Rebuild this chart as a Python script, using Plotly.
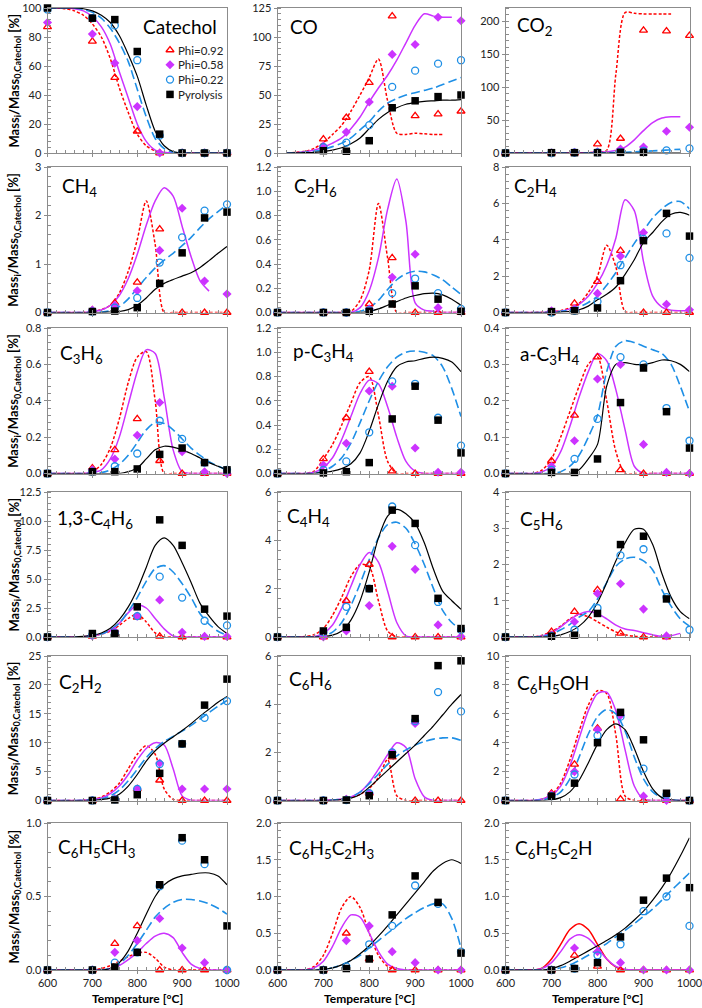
import plotly.graph_objects as go

W, H = 702, 1008

T_EXP = [600, 700, 750, 800, 850, 900, 950, 1000]
T_MOD = list(range(600, 1001, 20))
SERIES = ["Phi=0.92", "Phi=0.58", "Phi=0.22", "Pyrolysis"]
N = None

# ---------------- experimental data [Phi=0.92, Phi=0.58, Phi=0.22, Pyrolysis]
catechol_exp = [[87, 77, 52, 15, 0, 0, 0, 0], [90, 82, 62, 32, 0, 0, 0, 0],
                [99, 93, 88, 64, 12, 0, 0, 0], [100, 93, 92, 70, 13, 0, 0, 0]]
co_exp = [[N, 12, 30.6, 60.6, 118, 32, 33.5, 36], [N, 6, 18, 44, 85, 93.5, 117, 114],
          [N, 5, 9, 24, 57, 71, 77, 80], [N, 2, 1.5, 10.6, 39, 45, 48.6, 50]]
co2_exp = [[0, 0, 0, 13.6, 22, 186, 185, 178], [0, 0, 1, 2, 6, 9, 33, 39],
           [0, 0, 0.5, 1, 1.5, 3, 4, 7], [0, 0.5, 0.5, 0.5, 1, 1, N, N]]
ch4_exp = [[0, 0.05, 0.2, 0.62, 1.72, 0, 0, 0], [0, 0.05, 0.15, 0.45, 1.28, 2.15, 0.65, 0.38],
           [0, 0.02, 0.1, 0.3, 1.03, 1.55, 2.1, 2.23], [0, 0.02, 0.03, 0.1, 0.6, 1.23, 1.95, 2.07]]
c2h6_exp = [[0, 0, 0, 0.07, 0.45, 0, 0, 0], [0, 0, 0, 0.03, 0.29, 0.48, 0.04, 0.01],
            [0, 0, 0, 0.02, 0.16, 0.28, 0.16, 0.03], [0, 0, 0, 0.01, 0.07, 0.22, 0.11, 0.01]]
c2h4_exp = [[0, 0, 0.5, 1.7, 3.4, 0, 0, 0], [0, 0.1, 0.2, 1.05, 3.1, 4.4, 0.45, 0.15],
            [0, 0, 0.1, 0.6, 2.6, 4.05, 4.35, 3.0], [0, 0.05, 0.1, 0.25, 1.75, 3.95, 5.45, 4.2]]
c3h6_exp = [[0, 0.03, 0.13, 0.3, 0.07, 0, 0, 0], [0, 0.02, 0.08, 0.21, 0.39, 0.12, 0.01, 0],
            [0, 0.01, 0.04, 0.11, 0.29, 0.19, 0.06, 0.02], [0, 0.01, 0.01, 0.025, 0.105, 0.14, 0.06, 0.02]]
pc3h4_exp = [[0, 0.12, 0.46, 0.84, 0.02, 0, 0, 0], [0, 0.07, 0.25, 0.68, 0.72, 0.21, 0.01, 0.01],
             [0, 0.03, 0.1, 0.34, 0.76, 0.74, 0.46, 0.23], [0, 0.005, 0.015, 0.09, 0.45, 0.72, 0.44, 0.17]]
ac3h4_exp = [[0, 0.035, 0.16, 0.32, 0.01, 0, 0, 0], [0, 0.02, 0.09, 0.26, 0.3, 0.08, 0.003, 0],
             [0, 0.01, 0.04, 0.15, 0.32, 0.3, 0.18, 0.09], [0, 0.003, 0.003, 0.04, 0.195, 0.29, 0.17, 0.07]]
c4h6_exp = [[0, 0.05, 0.3, 1.7, 0.05, 0, 0, 0], [0, 0.1, 0.5, 1.8, 3.2, 0.4, 0.05, 0.05],
            [0, 0.2, 0.3, 1.8, 5.2, 3.4, 1.4, 1.0], [0, 0.3, 0.3, 2.6, 10.1, 7.9, 2.4, 1.8]]
c4h4_exp = [[0, 0, 1.5, 3.0, 0, 0, 0, 0], [0, 0, 0.25, 1.3, 3.75, 2.8, 0.5, 0.02],
            [0, 0.2, 1.25, 2.0, 5.4, 3.8, 1.45, 0.3], [0, 0.25, 0.4, 2.0, 5.25, 4.7, 1.6, 0.35]]
c5h6_exp = [[0, 0.15, 0.7, 1.3, 0.1, 0, 0, N], [0, 0.05, 0.42, 1.2, 1.47, 0.77, 0.03, N],
            [0, 0.03, 0.2, 0.8, 2.25, 2.42, 1.1, 0.2], [0, 0.02, 0.05, 0.65, 2.55, 2.78, 1.05, N]]
c2h2_exp = [[0, 0, 0.3, 2.0, 3.5, 0, 0, 0], [0, 0, 0.3, 2.0, 6.5, 2.0, 2.0, 2.0],
            [0, 0, 0.2, 2.0, 6.3, 9.8, 14.3, 17.2], [0, 0, 0.1, 1.0, 4.7, 9.8, 16.5, 21.0]]
c6h6_exp = [[0, 0, 0.05, 0.3, 1.8, 0, 0, 0], [0, 0, 0.05, 0.3, 2.0, 3.2, N, N],
            [0, 0, 0.02, 0.3, 2.0, 3.3, 4.5, 3.7], [0, 0, 0.02, 0.2, 1.9, 3.4, 5.6, 5.8]]
c6h5oh_exp = [[0, 0.5, 2.5, 5.0, 0.1, 0, 0, 0], [0, 0.4, 2.0, 4.9, 5.9, 0.3, 0, 0],
              [0, 0.3, 1.8, 4.5, 5.8, 2.2, 0.4, 0], [0, 0.3, 1.2, 4.0, 6.1, 4.2, 0.5, 0]]
c6h5ch3_exp = [[0, 0, 0.18, 0.3, 0, 0, 0, 0], [0, 0, 0.12, 0.2, 0.35, 0.15, 0.05, 0],
               [0, 0, 0.05, 0.12, 0.57, 0.88, 0.72, 0], [0, 0, 0.02, 0.12, 0.58, 0.9, 0.75, 0.3]]
c6h5c2h3_exp = [[0, 0, 0.5, 0.15, 0, 0, 0, 0], [0, 0, 0.4, 0.6, 0.25, 0.1, 0, 0],
                [0, 0, 0.05, 0.35, 0.6, 1.15, 0.9, 0.25], [0, 0, 0.02, 0.15, 0.75, 1.28, 0.92, 0.23]]
c6h5c2h_exp = [[0, 0, 0.2, 0.05, 0, 0, 0, 0], [0, 0, 0.3, 0.25, 0.1, 0, 0, 0],
               [0, 0, 0.02, 0.2, 0.35, 0.8, 1.0, 0.6], [0, 0, 0.02, 0.1, 0.45, 0.95, 1.25, 1.12]]

# ---------------- model curves on T_MOD (600..1000 step 20)
catechol_mod = [
    [100, 100, 99.5, 98, 95, 89, 80, 65, 45, 28, 13, 5, 1.5, 0, 0, 0, 0, 0, 0, 0, 0],
    [100, 100, 100, 99.5, 98, 94, 87, 75, 56, 38, 20, 8, 2, 0.5, 0, 0, 0, 0, 0, 0, 0],
    [100, 100, 100, 100, 99, 97, 93, 86, 76, 63, 44, 25, 10, 3, 0.5, 0, 0, 0, 0, 0, 0],
    [100, 100, 100, 100, 99.5, 98, 95, 90, 81, 68, 53, 33, 15, 5, 1, 0, 0, 0, 0, 0, 0]]
co_mod = [
    [N, 0, 0.5, 1.5, 4, 9, 16, 24, 36, 50, 65, 81, 45, 17, 16, 17, 16.5, 16, 16, N, N],
    [N, 0, 0.3, 1, 2.5, 5, 8.5, 13, 21, 31, 44, 56, 67, 80, 95, 110, 120, 118, 117, 117, N],
    [N, 0, 0.2, 0.7, 1.5, 3, 5.5, 8.5, 13, 20, 27, 36, 43, 47, 50, 52, 54, 56, 59, 62, 65],
    [N, 0, 0.1, 0.3, 0.6, 1.2, 2.5, 4.5, 8, 13, 21, 29, 35, 39, 42, 43.5, 44.5, 45, 45.5, 45.5, 46]]
co2_mod = [
    [0, 0, 0, 0, 0, 0, 0, 0, 0, 0.5, 1.5, 4, 120, 213, 212, 211, 211, 211, 211, N, N],
    [0, 0, 0, 0, 0, 0, 0, 0, 0, 0.3, 1, 2, 4, 9, 20, 34, 46, 53, 55, 55, N],
    [0, 0, 0, 0, 0, 0, 0, 0, 0, 0, 0.3, 0.5, 0.8, 1.2, 1.8, 2.5, 3.2, 4, 5, 5.5, N],
    [0, 0, 0, 0, 0, 0, 0, 0, 0, 0, 0, 0, 0, 0, 0, 0, 0, 0, 0, 0, N]]
ch4_mod = [
    [0, 0, 0, 0, 0, 0.02, 0.06, 0.15, 0.4, 0.85, 1.5, 2.3, 1.4, 0, 0, 0, 0, 0, 0, 0, 0],
    [0, 0, 0, 0, 0, 0.02, 0.05, 0.15, 0.35, 0.7, 1.2, 1.8, 2.3, 2.57, 2.4, 1.78, 1.15, 0.65, 0.44, N, N],
    [0, 0, 0, 0, 0, 0, 0.01, 0.04, 0.12, 0.28, 0.5, 0.72, 0.92, 1.08, 1.22, 1.38, 1.55, 1.75, 1.93, 2.08, 2.22],
    [0, 0, 0, 0, 0, 0, 0, 0.01, 0.02, 0.06, 0.15, 0.3, 0.48, 0.6, 0.68, 0.75, 0.82, 0.93, 1.07, 1.22, 1.36]]
c2h6_mod = [
    [0, 0, 0, 0, 0, 0, 0, 0, 0.01, 0.1, 0.35, 0.9, 0.45, 0, 0, 0, 0, 0, 0, 0, 0],
    [0, 0, 0, 0, 0, 0, 0, 0, 0, 0.04, 0.18, 0.45, 0.85, 1.1, 0.75, 0.08, 0.02, 0.01, 0, 0, 0],
    [0, 0, 0, 0, 0, 0, 0, 0, 0, 0.01, 0.04, 0.1, 0.19, 0.27, 0.32, 0.34, 0.335, 0.31, 0.27, 0.21, 0.15],
    [0, 0, 0, 0, 0, 0, 0, 0, 0, 0, 0.01, 0.03, 0.06, 0.09, 0.12, 0.14, 0.155, 0.16, 0.145, 0.11, 0.06]]
c2h4_mod = [
    [0, 0, 0, 0, 0.02, 0.05, 0.1, 0.25, 0.5, 1.1, 2.0, 3.7, 2.5, 0.05, 0, 0, 0, 0, 0, 0, 0],
    [0, 0, 0, 0, 0, 0.03, 0.08, 0.2, 0.45, 0.9, 1.6, 2.6, 4.1, 6.2, 5.6, 2.8, 0.9, 0.3, 0.12, 0.1, 0.1],
    [0, 0, 0, 0, 0, 0.02, 0.06, 0.15, 0.3, 0.55, 0.9, 1.5, 2.2, 3.0, 3.8, 4.5, 5.2, 5.7, 6.05, 6.1, 5.7],
    [0, 0, 0, 0, 0, 0, 0.02, 0.06, 0.15, 0.35, 0.7, 1.0, 1.4, 2.1, 2.9, 3.85, 4.4, 5.0, 5.4, 5.5, 5.35]]
c3h6_mod = [
    [0, 0, 0, 0, 0, 0.01, 0.05, 0.14, 0.3, 0.5, 0.64, 0.67, 0.4, 0, 0, 0, 0, 0, 0, 0, 0],
    [0, 0, 0, 0, 0, 0.005, 0.02, 0.08, 0.2, 0.38, 0.56, 0.68, 0.66, 0.42, 0.13, 0.01, 0, 0, 0, 0, 0],
    [0, 0, 0, 0, 0, 0, 0.005, 0.02, 0.05, 0.1, 0.17, 0.24, 0.28, 0.275, 0.24, 0.19, 0.14, 0.1, 0.065, 0.04, 0.02],
    [0, 0, 0, 0, 0, 0, 0, 0, 0, 0.01, 0.03, 0.08, 0.13, 0.15, 0.145, 0.13, 0.11, 0.085, 0.06, 0.04, 0.02]]
pc3h4_mod = [
    [0, 0, 0, 0, 0.02, 0.12, 0.24, 0.4, 0.58, 0.75, 0.8, 0.48, 0.1, 0, 0, 0, 0, 0, 0, 0, 0],
    [0, 0, 0, 0, 0.01, 0.05, 0.13, 0.28, 0.47, 0.66, 0.77, 0.74, 0.55, 0.3, 0.1, 0.02, 0, 0, 0, 0, 0],
    [0, 0, 0, 0, 0, 0.02, 0.06, 0.13, 0.25, 0.42, 0.6, 0.76, 0.88, 0.96, 1.0, 1.01, 1.0, 0.97, 0.88, 0.7, 0.47],
    [0, 0, 0, 0, 0, 0.01, 0.02, 0.04, 0.08, 0.17, 0.35, 0.57, 0.76, 0.88, 0.92, 0.93, 0.95, 0.96, 0.95, 0.92, 0.84]]
ac3h4_mod = [
    [0, 0, 0, 0, 0.01, 0.04, 0.1, 0.17, 0.24, 0.3, 0.32, 0.2, 0.06, 0, 0, 0, 0, 0, 0, 0, 0],
    [0, 0, 0, 0, 0.005, 0.02, 0.06, 0.13, 0.21, 0.28, 0.33, 0.31, 0.23, 0.12, 0.02, 0, 0, 0, 0, 0, 0],
    [0, 0, 0, 0, 0, 0, 0.005, 0.02, 0.05, 0.1, 0.16, 0.28, 0.35, 0.365, 0.36, 0.35, 0.34, 0.33, 0.3, 0.24, 0.17],
    [0, 0, 0, 0, 0, 0, 0, 0, 0.01, 0.04, 0.08, 0.24, 0.3, 0.305, 0.3, 0.3, 0.305, 0.312, 0.31, 0.3, 0.28]]
c4h6_mod = [
    [0, 0, 0, 0, 0.03, 0.1, 0.25, 0.5, 1.0, 1.6, 1.95, 1.3, 0.35, 0, 0, 0, 0, 0, 0, 0, 0],
    [0, 0, 0, 0, 0.03, 0.1, 0.25, 0.6, 1.2, 2.1, 2.75, 2.5, 1.6, 0.7, 0.1, 0, 0, 0, 0, 0, 0],
    [0, 0, 0, 0, 0.03, 0.1, 0.25, 0.6, 1.2, 2.2, 3.4, 4.8, 5.9, 6.15, 5.6, 4.6, 3.4, 2.0, 1.1, 0.5, 0.15],
    [0, 0, 0, 0, 0.05, 0.15, 0.35, 0.75, 1.5, 2.6, 4.1, 6.0, 7.9, 8.55, 7.9, 6.4, 4.7, 2.9, 1.8, 0.9, 0.3]]
c4h4_mod = [
    [0, 0, 0, 0.02, 0.1, 0.35, 0.9, 1.65, 2.5, 3.0, 2.9, 1.5, 0.25, 0, 0, 0, 0, 0, 0, 0, 0],
    [0, 0, 0, 0, 0.02, 0.15, 0.5, 1.2, 2.1, 3.0, 3.5, 3.1, 1.9, 0.6, 0.05, 0, 0, 0, 0, 0, 0],
    [0, 0, 0, 0, 0, 0.05, 0.2, 0.6, 1.3, 2.2, 3.2, 4.1, 4.65, 4.75, 4.5, 3.85, 3.0, 2.0, 1.1, 0.6, 0.3],
    [0, 0, 0, 0, 0, 0.02, 0.08, 0.25, 0.7, 1.5, 2.7, 4.1, 5.0, 5.28, 5.1, 4.7, 3.9, 2.8, 1.9, 1.5, 1.15]]
c5h6_mod = [
    [0, 0, 0, 0, 0.05, 0.15, 0.3, 0.5, 0.62, 0.56, 0.42, 0.27, 0.14, 0.06, 0.02, 0, 0, 0.02, 0.05, N, N],
    [0, 0, 0, 0, 0.03, 0.12, 0.28, 0.48, 0.63, 0.7, 0.64, 0.5, 0.33, 0.22, 0.18, 0.12, 0.06, 0.02, 0.04, 0.1, N],
    [0, 0, 0, 0, 0.02, 0.08, 0.2, 0.35, 0.55, 0.7, 1.05, 1.5, 1.95, 2.15, 2.2, 2.1, 1.85, 1.3, 0.85, 0.5, 0.3],
    [0, 0, 0, 0, 0, 0.02, 0.06, 0.15, 0.3, 0.55, 0.95, 1.5, 2.1, 2.6, 2.97, 2.97, 2.55, 1.75, 1.1, 0.7, 0.5]]
c2h2_mod = [
    [0, 0, 0, 0, 0.05, 0.2, 0.6, 1.5, 3.0, 5.5, 8.0, 9.5, 8.0, 2.0, 0.2, 0, 0, 0, 0, 0, 0],
    [0, 0, 0, 0, 0.03, 0.15, 0.45, 1.2, 2.5, 4.5, 7.0, 9.0, 10.0, 9.6, 5.5, 0.8, 0.05, 0, 0, 0, 0],
    [0, 0, 0, 0, 0.02, 0.1, 0.3, 0.8, 1.8, 3.4, 5.4, 7.4, 9.0, 10.2, 11.1, 12.0, 13.0, 14.1, 15.2, 16.3, 17.3],
    [0, 0, 0, 0, 0, 0.05, 0.15, 0.4, 1.1, 2.5, 4.5, 6.8, 8.6, 9.9, 11.0, 12.1, 13.3, 14.6, 15.8, 17.0, 18.0]]
c6h6_mod = [
    [0, 0, 0, 0, 0, 0, 0.02, 0.05, 0.12, 0.25, 0.5, 0.95, 1.7, 0.2, 0, 0, 0, 0, 0, 0, 0],
    [0, 0, 0, 0, 0, 0, 0.02, 0.06, 0.15, 0.35, 0.75, 1.3, 1.9, 2.4, 2.2, 0.9, 0.15, 0, 0, 0, 0],
    [0, 0, 0, 0, 0, 0, 0.02, 0.06, 0.15, 0.35, 0.7, 1.1, 1.5, 1.85, 2.1, 2.3, 2.45, 2.55, 2.6, 2.6, 2.5],
    [0, 0, 0, 0, 0, 0, 0.01, 0.04, 0.1, 0.25, 0.55, 0.9, 1.25, 1.6, 1.95, 2.3, 2.7, 3.1, 3.55, 4.0, 4.4]]
c6h5oh_mod = [
    [0, 0, 0, 0, 0.1, 0.4, 1.2, 2.8, 4.8, 6.6, 7.6, 7.4, 4.5, 0.3, 0, 0, 0, 0, 0, 0, 0],
    [0, 0, 0, 0, 0.1, 0.35, 1.0, 2.4, 4.3, 6.2, 7.4, 7.5, 6.2, 3.5, 1.0, 0.1, 0, 0, 0, 0, 0],
    [0, 0, 0, 0, 0.05, 0.2, 0.6, 1.5, 3.0, 4.6, 5.8, 6.3, 6.0, 4.8, 3.0, 1.5, 0.6, 0.2, 0.05, 0, 0],
    [0, 0, 0, 0, 0, 0.05, 0.2, 0.6, 1.4, 2.6, 3.9, 4.9, 5.3, 4.9, 3.6, 2.0, 0.8, 0.2, 0.05, 0, 0]]
c6h5ch3_mod = [
    [0, 0, 0, 0, 0, 0, 0.01, 0.03, 0.06, 0.09, 0.115, 0.12, 0.08, 0.02, 0, 0, 0, 0, 0, 0, 0],
    [0, 0, 0, 0, 0, 0, 0, 0.01, 0.03, 0.07, 0.12, 0.18, 0.23, 0.25, 0.22, 0.12, 0.04, 0.01, 0, 0, 0],
    [0, 0, 0, 0, 0, 0, 0, 0.01, 0.04, 0.1, 0.18, 0.27, 0.36, 0.42, 0.46, 0.48, 0.48, 0.47, 0.45, 0.42, 0.38],
    [0, 0, 0, 0, 0, 0, 0, 0.01, 0.05, 0.13, 0.25, 0.38, 0.5, 0.58, 0.62, 0.64, 0.65, 0.66, 0.66, 0.64, 0.58]]
c6h5c2h3_mod = [
    [0, 0, 0, 0, 0.05, 0.2, 0.5, 0.85, 1.0, 0.85, 0.5, 0.2, 0.05, 0, 0, 0, 0, 0, 0, 0, 0],
    [0, 0, 0, 0, 0.03, 0.12, 0.32, 0.58, 0.75, 0.72, 0.5, 0.25, 0.08, 0.02, 0, 0, 0, 0, 0, 0, 0],
    [0, 0, 0, 0, 0, 0.01, 0.03, 0.07, 0.13, 0.2, 0.3, 0.4, 0.5, 0.6, 0.7, 0.78, 0.85, 0.9, 0.9, 0.7, 0.3],
    [0, 0, 0, 0, 0, 0.01, 0.03, 0.07, 0.13, 0.22, 0.33, 0.46, 0.6, 0.75, 0.9, 1.05, 1.2, 1.35, 1.45, 1.5, 1.45]]
c6h5c2h_mod = [
    [0, 0, 0, 0, 0.03, 0.15, 0.35, 0.55, 0.63, 0.55, 0.35, 0.15, 0.04, 0, 0, 0, 0, 0, 0, 0, 0],
    [0, 0, 0, 0, 0.02, 0.1, 0.25, 0.42, 0.48, 0.43, 0.3, 0.15, 0.05, 0.01, 0, 0, 0, 0, 0, 0, 0],
    [0, 0, 0, 0, 0, 0.01, 0.03, 0.07, 0.13, 0.2, 0.28, 0.36, 0.45, 0.54, 0.63, 0.73, 0.83, 0.95, 1.08, 1.2, 1.32],
    [0, 0, 0, 0, 0, 0.02, 0.06, 0.12, 0.19, 0.26, 0.33, 0.4, 0.48, 0.57, 0.68, 0.8, 0.95, 1.12, 1.32, 1.55, 1.8]]

# ---------------- panels: title, exp, model, ymax, dtick, tickformat
panels = [
    ("Catechol", catechol_exp, catechol_mod, 100, 20, "d"),
    ("CO", co_exp, co_mod, 125, 25, "d"),
    ("CO<sub>2</sub>", co2_exp, co2_mod, 220, 50, "d"),
    ("CH<sub>4</sub>", ch4_exp, ch4_mod, 3, 1, "d"),
    ("C<sub>2</sub>H<sub>6</sub>", c2h6_exp, c2h6_mod, 1.2, 0.2, ".1f"),
    ("C<sub>2</sub>H<sub>4</sub>", c2h4_exp, c2h4_mod, 8, 2, "d"),
    ("C<sub>3</sub>H<sub>6</sub>", c3h6_exp, c3h6_mod, 0.8, 0.2, ".1f"),
    ("p-C<sub>3</sub>H<sub>4</sub>", pc3h4_exp, pc3h4_mod, 1.2, 0.2, ".1f"),
    ("a-C<sub>3</sub>H<sub>4</sub>", ac3h4_exp, ac3h4_mod, 0.4, 0.1, ".1f"),
    ("1,3-C<sub>4</sub>H<sub>6</sub>", c4h6_exp, c4h6_mod, 12.5, 2.5, ".1f"),
    ("C<sub>4</sub>H<sub>4</sub>", c4h4_exp, c4h4_mod, 6, 2, "d"),
    ("C<sub>5</sub>H<sub>6</sub>", c5h6_exp, c5h6_mod, 4, 1, "d"),
    ("C<sub>2</sub>H<sub>2</sub>", c2h2_exp, c2h2_mod, 25, 5, "d"),
    ("C<sub>6</sub>H<sub>6</sub>", c6h6_exp, c6h6_mod, 6, 2, "d"),
    ("C<sub>6</sub>H<sub>5</sub>OH", c6h5oh_exp, c6h5oh_mod, 10, 2, "d"),
    ("C<sub>6</sub>H<sub>5</sub>CH<sub>3</sub>", c6h5ch3_exp, c6h5ch3_mod, 1.0, 0.5, ".1f"),
    ("C<sub>6</sub>H<sub>5</sub>C<sub>2</sub>H<sub>3</sub>", c6h5c2h3_exp, c6h5c2h3_mod, 2.0, 0.5, ".1f"),
    ("C<sub>6</sub>H<sub>5</sub>C<sub>2</sub>H", c6h5c2h_exp, c6h5c2h_mod, 2.0, 0.5, ".1f"),
]

# ---------------- layout geometry (pixels)
COL_X = [(47.5, 227), (277.5, 461), (505.5, 689.5)]
ROW_Y = [(8, 153), (167, 312.5), (328, 473.5), (492, 637), (656, 800.5), (823, 970)]
TITLE_POS = [(141, 26), (288, 26), (515, 26),
             (60, 187), (292, 187), (512, 187),
             (58, 354), (291, 352), (518, 355),
             (55, 519), (285, 517), (518, 520),
             (57, 683), (287, 680), (515, 684),
             (56, 848), (287, 849), (513, 849)]
LEGEND_X, LEGEND_Y0, LEGEND_DY = 170, 50, 14.8

RED, MAG, BLUE, BLACK = "#FF0000", "#CC33FF", "#1E8FE6", "#000000"
MARKERS = [dict(symbol="triangle-up-open", color=RED, size=7, line=dict(width=1.3, color=RED)),
           dict(symbol="diamond", color=MAG, size=7, line=dict(width=0)),
           dict(symbol="circle-open", color=BLUE, size=7, line=dict(width=1.3, color=BLUE)),
           dict(symbol="square", color=BLACK, size=7.5, line=dict(width=0))]
LINES = [dict(color=RED, width=1.5, dash="3px,2px"),
         dict(color=MAG, width=1.5),
         dict(color=BLUE, width=1.6, dash="9px,4px"),
         dict(color=BLACK, width=1.2)]

FONT = "Lato, 'Open Sans', sans-serif"
AXC = "#8c8c8c"

fig = go.Figure()
layout = {}
annotations = []

for k, (title, exp, mod, ymax, dtick, fmt) in enumerate(panels):
    r, c = divmod(k, 3)
    xa = "x" if k == 0 else f"x{k+1}"
    ya = "y" if k == 0 else f"y{k+1}"
    for s in range(4):
        ls = dict(LINES[s])
        if k == len(panels) - 1 and s == 0:
            ls.pop("dash")  # the last panel draws its Phi=0.92 model as a solid line
        fig.add_trace(go.Scatter(x=T_MOD, y=mod[s], mode="lines", line=ls,
                                 line_shape="spline", line_smoothing=0.8,
                                 xaxis=xa, yaxis=ya, showlegend=False, hoverinfo="skip"))
    for s in range(4):
        fig.add_trace(go.Scatter(x=T_EXP, y=exp[s], mode="markers", marker=MARKERS[s],
                                 name=SERIES[s], xaxis=xa, yaxis=ya, cliponaxis=False,
                                 showlegend=False))
    x0, x1 = COL_X[c]
    y0, y1 = ROW_Y[r]
    layout["xaxis" if k == 0 else f"xaxis{k+1}"] = dict(
        domain=[x0 / W, x1 / W], range=[600, 1000], anchor=ya, automargin=False,
        tickvals=[600, 700, 800, 900, 1000], showticklabels=(r == 5),
        ticklabeloverflow="allow",
        ticks="outside", ticklen=3, tickcolor=AXC,
        minor=dict(dtick=20, tick0=600, ticks="inside", ticklen=3, tickcolor=AXC),
        showline=True, mirror=True, linecolor=AXC, linewidth=1,
        showgrid=False, zeroline=False,
        tickfont=dict(family=FONT, size=11, color="#222"))
    layout["yaxis" if k == 0 else f"yaxis{k+1}"] = dict(
        domain=[1 - y1 / H, 1 - y0 / H], range=[0, ymax], anchor=xa, automargin=False,
        dtick=dtick, tick0=0, tickformat=fmt, ticklabeloverflow="allow",
        ticks="outside", ticklen=3, tickcolor=AXC,
        minor=dict(dtick=dtick / 5, tick0=0, ticks="inside", ticklen=3, tickcolor=AXC),
        showline=True, mirror=True, linecolor=AXC, linewidth=1,
        showgrid=False, zeroline=False,
        tickfont=dict(family=FONT, size=11, color="#222"))
    tx, ty = TITLE_POS[k]
    annotations.append(dict(text=title, x=tx / W, y=1 - ty / H, xref="paper", yref="paper",
                            xanchor="left", yanchor="middle", showarrow=False,
                            font=dict(family=FONT, size=19, color="#000")))

# ---------------- legend (inside the Catechol panel), drawn on a hidden overlay axis
nL = len(panels) + 1
lx0, lx1 = LEGEND_X - 6, LEGEND_X + 6
ly0, ly1 = LEGEND_Y0 - LEGEND_DY / 2, LEGEND_Y0 + LEGEND_DY * 3.5
layout[f"xaxis{nL}"] = dict(domain=[lx0 / W, lx1 / W], range=[0, 1], visible=False,
                            anchor=f"y{nL}", fixedrange=True)
layout[f"yaxis{nL}"] = dict(domain=[1 - ly1 / H, 1 - ly0 / H], range=[3.5, -0.5], visible=False,
                            anchor=f"x{nL}", fixedrange=True)
for s in range(4):
    fig.add_trace(go.Scatter(x=[0.5], y=[s], mode="markers", marker=MARKERS[s], name=SERIES[s],
                             xaxis=f"x{nL}", yaxis=f"y{nL}", cliponaxis=False,
                             showlegend=False, hoverinfo="skip"))
    annotations.append(dict(text=SERIES[s], x=(LEGEND_X + 6) / W,
                            y=1 - (LEGEND_Y0 + LEGEND_DY * s) / H,
                            xref="paper", yref="paper", xanchor="left", yanchor="middle",
                            showarrow=False, font=dict(family=FONT, size=11.5, color="#222")))

for r in range(6):
    y0, y1 = ROW_Y[r]
    annotations.append(dict(text="<b>Mass<sub>i</sub>/Mass<sub>0,Catechol</sub> [%]</b>",
                            x=14 / W, y=1 - (y0 + y1) / 2 / H, xref="paper", yref="paper",
                            xanchor="center", yanchor="middle", textangle=-90, showarrow=False,
                            font=dict(family=FONT, size=13, color="#000")))
for c in range(3):
    x0, x1 = COL_X[c]
    annotations.append(dict(text="<b>Temperature [°C]</b>", x=(x0 + x1) / 2 / W, y=1 - 998 / H,
                            xref="paper", yref="paper", xanchor="center", yanchor="middle",
                            showarrow=False, font=dict(family=FONT, size=12, color="#000")))

fig.update_layout(
    width=W, height=H, margin=dict(l=0, r=0, t=0, b=0, autoexpand=False),
    paper_bgcolor="white", plot_bgcolor="white",
    showlegend=False, hovermode=False,
    annotations=annotations,
    **layout)

fig.write_html("out.html", config={"displayModeBar": False, "staticPlot": True},
               post_script="document.body.style.margin='0';document.body.style.overflow='hidden';")
